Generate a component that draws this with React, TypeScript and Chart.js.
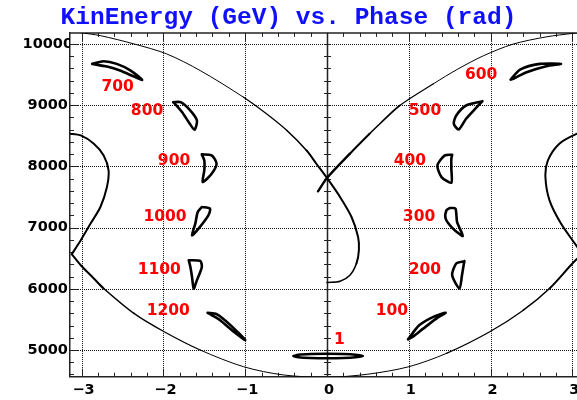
import React, { useEffect, useRef } from 'react';
import { Chart, registerables } from 'chart.js';

Chart.register(...registerables);

type Pt = [number, number];

const TITLE = 'KinEnergy (GeV) vs. Phase (rad)';
const X_TICKS = [-3, -2, -1, 0, 1, 2, 3];
const X_TICK_LABELS = ['\u22123', '\u22122', '\u22121', '0', '1', '2', '3'];
const Y_TICKS = [5000, 6000, 7000, 8000, 9000, 10000];
const Y_TICK_LABELS = ['5000', '6000', '7000', '8000', '9000', '10000'];
const X_MIN = -Math.PI;
const X_MAX = Math.PI;
const Y_MIN = 4564;
const Y_MAX = 10180;

// separatrix branch: upper-left arc -> crossing -> loop back to phase 0
const SEP_DOWN: Pt[] = [
  [-3.02, 10185], [-2.77, 10135], [-2.36, 10000], [-1.96, 9837], [-1.55, 9565],
  [-1.02, 9129], [-0.74, 8859], [-0.49, 8586], [-0.25, 8260], [-0.13, 8043],
  [0, 7810], [0.16, 7499], [0.3, 7173], [0.38, 6847], [0.39, 6630],
  [0.36, 6413], [0.28, 6222], [0.16, 6124], [0, 6103],
];
// separatrix branch: short stub -> crossing -> upper-right arc
const SEP_UP: Pt[] = [
  [-0.11, 7592], [0, 7810], [0.28, 8207], [0.52, 8532], [0.65, 8700],
  [0.89, 8994], [1.3, 9348], [1.6, 9590], [1.91, 9805], [2.27, 9995],
  [2.68, 10115], [3.0, 10172], [3.15, 10195],
];
// outer orbit pieces
const OUTER_RIGHT: Pt[] = [
  [3.15, 8560], [3.05, 8530], [2.84, 8370], [2.7, 8097], [2.67, 7825],
  [2.72, 7445], [2.86, 7065], [3.03, 6739], [3.12, 6565],
];
const OUTER_BOTTOM: Pt[] = [
  [3.12, 6565], [3.0, 6413], [2.72, 6005], [2.4, 5651], [1.99, 5298],
  [1.46, 4945], [1.0, 4727], [0.5, 4605], [0, 4554], [-0.53, 4592],
  [-1.02, 4727], [-1.55, 5000], [-1.99, 5298], [-2.36, 5598], [-2.73, 6005],
  [-2.85, 6168], [-3.01, 6385], [-3.12, 6565],
];
const OUTER_LEFT: Pt[] = [
  [-3.12, 6565], [-3.01, 6793], [-2.89, 7065], [-2.77, 7336], [-2.69, 7662],
  [-2.67, 7934], [-2.73, 8179], [-2.85, 8370], [-3.01, 8505], [-3.15, 8535],
];

// islands (closed loops), named by turn label
const ISLAND_1: Pt[] = [
  [-0.41, 4902], [-0.35, 4922], [-0.2, 4934], [0, 4938], [0.2, 4934], [0.35, 4922],
  [0.44, 4902], [0.35, 4882], [0.2, 4870], [0, 4866], [-0.2, 4870], [-0.35, 4882], [-0.41, 4902],
];
const ISLAND_100: Pt[] = [
  [0.99, 5174], [1.13, 5407], [1.3, 5542], [1.45, 5608], [1.34, 5516], [1.18, 5353], [1.05, 5216], [0.99, 5174],
];
const ISLAND_200: Pt[] = [
  [1.68, 6451], [1.58, 6413], [1.53, 6222], [1.62, 6005], [1.65, 6222], [1.67, 6385], [1.68, 6451],
];
const ISLAND_300: Pt[] = [
  [1.5, 7319], [1.57, 7310], [1.59, 7091], [1.66, 6863], [1.54, 6984], [1.45, 7147], [1.46, 7282], [1.5, 7319],
];
const ISLAND_400: Pt[] = [
  [1.53, 8190], [1.44, 8179], [1.35, 8016], [1.4, 7825], [1.52, 7734], [1.52, 7962], [1.52, 8125], [1.53, 8190],
];
const ISLAND_500: Pt[] = [
  [1.9, 9064], [1.7, 8994], [1.58, 8831], [1.55, 8696], [1.61, 8603], [1.7, 8777], [1.83, 8966], [1.9, 9064],
];
const ISLAND_600: Pt[] = [
  [2.245, 9418], [2.36, 9581], [2.6, 9674], [2.86, 9674], [2.68, 9635], [2.44, 9537], [2.29, 9440], [2.245, 9418],
];
const ISLAND_700: Pt[] = [
  [-2.87, 9674], [-2.73, 9716], [-2.57, 9674], [-2.4, 9565], [-2.26, 9413], [-2.36, 9467], [-2.53, 9565], [-2.69, 9630], [-2.87, 9674],
];
const ISLAND_800: Pt[] = [
  [-1.88, 9048], [-1.79, 9048], [-1.67, 8912], [-1.59, 8749], [-1.62, 8598], [-1.69, 8722], [-1.77, 8885], [-1.85, 9010], [-1.88, 9048],
];
const ISLAND_900: Pt[] = [
  [-1.53, 8195], [-1.41, 8179], [-1.35, 8043], [-1.41, 7880], [-1.52, 7743], [-1.5, 7934], [-1.5, 8097], [-1.53, 8195],
];
const ISLAND_1000: Pt[] = [
  [-1.53, 7336], [-1.43, 7310], [-1.45, 7200], [-1.57, 6984], [-1.65, 6874], [-1.61, 7065], [-1.58, 7254], [-1.53, 7336],
];
const ISLAND_1100: Pt[] = [
  [-1.69, 6467], [-1.55, 6455], [-1.53, 6357], [-1.59, 6141], [-1.63, 6005], [-1.65, 6195], [-1.67, 6357], [-1.69, 6467],
];
const ISLAND_1200: Pt[] = [
  [-1.46, 5608], [-1.35, 5586], [-1.18, 5407], [-1.0, 5163], [-1.14, 5298], [-1.31, 5489], [-1.41, 5570], [-1.46, 5608],
];

// turn labels
const LABEL_TEXT = ['1', '100', '200', '300', '400', '500', '600', '700', '800', '900', '1000', '1100', '1200'];
const LABEL_X = [0.153, 0.793, 1.196, 1.125, 1.013, 1.198, 1.885, -2.56, -2.2, -1.87, -1.98, -2.05, -1.94];
const LABEL_Y = [5171, 5633, 6312, 7181, 8092, 8909, 9496, 9304, 8912, 8090, 7176, 6304, 5638];

type WidthFn = (mx: number, my: number) => number;

function curve(points: Pt[], width: number | WidthFn, tension: number) {
  const ds: any = {
    data: points.map(([x, y]) => ({ x, y })),
    showLine: true,
    pointRadius: 0,
    pointHoverRadius: 0,
    borderColor: '#000',
    backgroundColor: '#000',
    borderWidth: typeof width === 'number' ? width : 1.5,
    tension,
    fill: false,
    borderJoinStyle: 'round',
    borderCapStyle: 'round',
  };
  if (typeof width === 'function') {
    ds.segment = {
      borderWidth: (c: any) =>
        width((c.p0.parsed.x + c.p1.parsed.x) / 2, (c.p0.parsed.y + c.p1.parsed.y) / 2),
    };
  }
  return ds;
}

const decorPlugin = {
  id: 'decor',
  beforeDatasetsDraw(chart: any) {
    const { ctx, chartArea: a, scales } = chart;
    const xs = scales.x;
    const ys = scales.y;
    const seg = (x1: number, y1: number, x2: number, y2: number) => {
      ctx.beginPath();
      ctx.moveTo(x1, y1);
      ctx.lineTo(x2, y2);
      ctx.stroke();
    };
    ctx.save();
    // dotted grid
    ctx.strokeStyle = '#111';
    ctx.lineWidth = 1;
    ctx.setLineDash([1, 1]);
    X_TICKS.forEach((v) => {
      const px = Math.round(xs.getPixelForValue(v)) + 0.5;
      seg(px, a.top, px, a.bottom);
    });
    Y_TICKS.forEach((v) => {
      const py = Math.round(ys.getPixelForValue(v)) + 0.5;
      seg(a.left, py, a.right, py);
    });
    ctx.setLineDash([]);
    // frame top + zero axis
    ctx.strokeStyle = '#222';
    ctx.lineWidth = 1.5;
    seg(a.left, a.top, a.right, a.top);
    const x0 = Math.round(xs.getPixelForValue(0)) + 0.5;
    seg(x0, a.top, x0, a.bottom);
    // minor/major tick marks
    ctx.lineWidth = 1;
    for (let v = 4600; v <= Y_MAX; v += 200) {
      const py = Math.round(ys.getPixelForValue(v)) + 0.5;
      const major = v % 1000 === 0;
      seg(a.left, py, a.left + (major ? 8 : 4), py);
      seg(x0 - 3.5, py, x0 + 3.5, py);
    }
    for (let k = -15; k <= 15; k++) {
      const px = Math.round(xs.getPixelForValue(k / 5)) + 0.5;
      const major = k % 5 === 0;
      seg(px, a.bottom, px, a.bottom - (major ? 8 : 4));
      seg(px, a.top, px, a.top + (major ? 8 : 4));
    }
    ctx.restore();
  },
  afterDatasetsDraw(chart: any) {
    const { ctx, scales } = chart;
    ctx.save();
    ctx.fillStyle = '#ff0000';
    ctx.font = 'bold 15.5px "DejaVu Sans"';
    ctx.textAlign = 'center';
    ctx.textBaseline = 'middle';
    LABEL_TEXT.forEach((t, i) => {
      ctx.fillText(t, scales.x.getPixelForValue(LABEL_X[i]), scales.y.getPixelForValue(LABEL_Y[i]));
    });
    ctx.restore();
  },
};

const tickFont = { family: '"DejaVu Sans"', size: 14.5, weight: 'bold' as const };

export default function App() {
  const ref = useRef<HTMLCanvasElement | null>(null);
  useEffect(() => {
    if (!ref.current) return;
    const sepDownW: WidthFn = (_x, y) =>
      y > 9000 ? 1 : y > 8700 ? 1.3 : y > 8400 ? 1.6 : y < 6350 ? 1.6 : 2;
    const sepUpW: WidthFn = (_x, y) =>
      y < 8300 ? 2.4 : y < 8600 ? 2 : y < 8900 ? 1.6 : y < 9300 ? 1.25 : 1;
    const bottomW: WidthFn = (x) => {
      const ax = Math.abs(x);
      return ax > 2.6 ? 2 : ax > 2.2 ? 1.6 : ax > 1.6 ? 1.3 : 1;
    };
    const islands = [
      ISLAND_1, ISLAND_100, ISLAND_200, ISLAND_300, ISLAND_400, ISLAND_500, ISLAND_600,
      ISLAND_700, ISLAND_800, ISLAND_900, ISLAND_1000, ISLAND_1100, ISLAND_1200,
    ];
    const datasets = [
      curve(SEP_DOWN, sepDownW, 0.3),
      curve(SEP_UP, sepUpW, 0.3),
      curve(OUTER_RIGHT, 2, 0.3),
      curve(OUTER_BOTTOM, bottomW, 0.3),
      curve(OUTER_LEFT, 2, 0.3),
      ...islands.map((p) => curve(p, 2.6, 0.25)),
    ];
    const chart = new Chart(ref.current, {
      type: 'scatter',
      data: { datasets },
      plugins: [decorPlugin],
      options: {
        animation: false,
        responsive: false,
        events: [],
        layout: { padding: 0 },
        plugins: {
          legend: { display: false },
          tooltip: { enabled: false },
          title: {
            display: true,
            text: TITLE,
            color: '#1010ff',
            font: { family: '"Liberation Mono"', size: 24.5, weight: 'bold', lineHeight: 1.2 },
            padding: { top: 3, bottom: 0.5 },
          },
        },
        scales: {
          x: {
            type: 'linear',
            min: X_MIN,
            max: X_MAX,
            afterBuildTicks: (s: any) => {
              s.ticks = X_TICKS.map((v) => ({ value: v }));
            },
            afterFit: (s: any) => {
              s.height = 23.3;
            },
            ticks: {
              callback: (_v: any, i: number) => X_TICK_LABELS[i],
              font: tickFont,
              color: '#000',
              padding: 5,
              labelOffset: 2,
              maxRotation: 0,
              autoSkip: false,
            },
            grid: { display: false, drawTicks: false },
            border: { display: true, color: '#222', width: 1.5 },
          },
          y: {
            type: 'linear',
            min: Y_MIN,
            max: Y_MAX,
            afterBuildTicks: (s: any) => {
              s.ticks = Y_TICKS.map((v) => ({ value: v }));
            },
            afterFit: (s: any) => {
              s.width = 77;
            },
            ticks: {
              callback: (_v: any, i: number) => Y_TICK_LABELS[i],
              font: tickFont,
              color: '#000',
              padding: -3,
              crossAlign: 'center',
              autoSkip: false,
            },
            grid: { display: false, drawTicks: false },
            border: { display: true, color: '#222', width: 1.5 },
          },
        },
      } as any,
    });
    return () => chart.destroy();
  }, []);

  return (
    <div
      style={{
        position: 'fixed',
        left: 0,
        top: 0,
        width: 577,
        height: 400,
        overflow: 'hidden',
        background: '#fff',
      }}
    >
      <canvas
        ref={ref}
        width={591}
        height={400}
        style={{ position: 'absolute', left: -7, top: 0, width: 591, height: 400 }}
      />
    </div>
  );
}
